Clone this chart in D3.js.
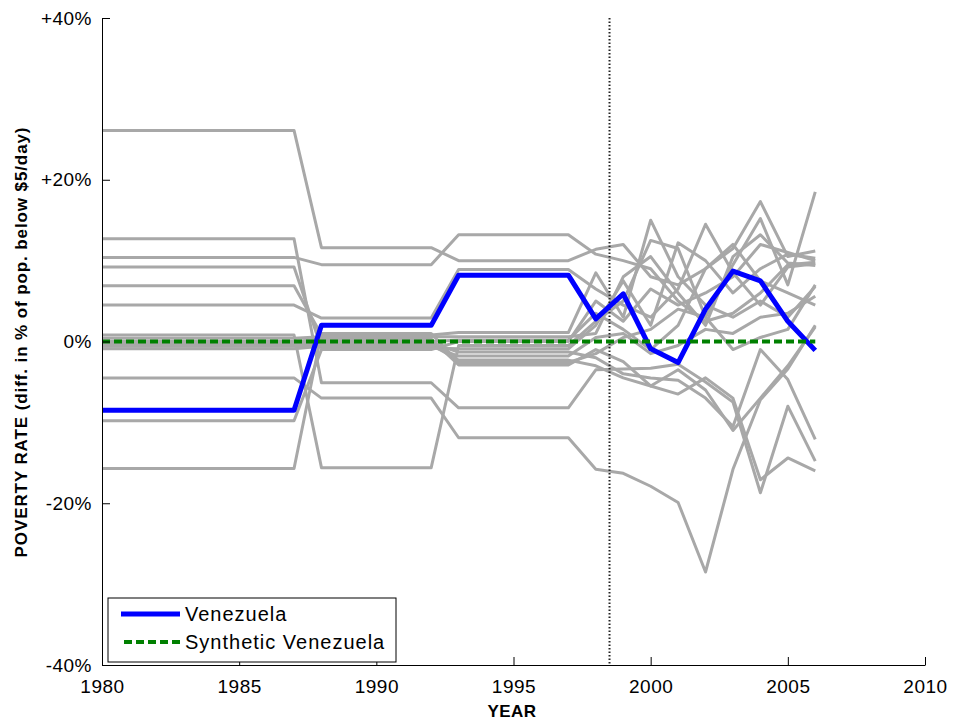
<!DOCTYPE html>
<html>
<head>
<meta charset="utf-8">
<script src="https://cdn.jsdelivr.net/npm/d3@7"></script>
<style>
    body { margin: 0; background: #fff; }
    text { font-family: "Liberation Sans", Arial, sans-serif; fill: #000; }
</style>
</head>
<body>
<svg id="chart" width="955" height="723"></svg>
<script>
// years 1980..2006
const years = [1980,1981,1982,1983,1984,1985,1986,1987,1988,1989,1990,1991,1992,1993,1994,1995,1996,1997,
               1998,1999,2000,2001,2002,2003,2004,2005,2006];

const venezuela = [-8.5,-8.5,-8.5,-8.5,-8.5,-8.5,-8.5,-8.5, 2.0,2.0,2.0,2.0,2.0, 8.2,8.2,8.2,8.2,8.2,
                   2.8,5.9,-0.9,-2.6,4.0,8.7,7.5,2.5,-1.1];

const synthetic = [0,0,0,0,0,0,0,0, 0,0,0,0,0, 0,0,0,0,0, 0,0,0,0,0,0,0,0,0];

// placebo runs (donor pool countries)
const placebo01 = [26.1,26.1,26.1,26.1,26.1,26.1,26.1,26.1, 11.6,11.6,11.6,11.6,11.6, 10.0,10.0,10.0,10.0,10.0, 11.4,12.0,8.0,7.0,9.0,11.5,17.3,10.5,11.2];
const placebo02 = [12.7,12.7,12.7,12.7,12.7,12.7,12.7,12.7, -5.1,-5.1,-5.1,-5.1,-5.1, -8.2,-8.2,-8.2,-8.2,-8.2, -3.5,-3.4,-3.3,-2.8,-5.0,-7.5,-18.7,-8.0,-14.8];
const placebo03 = [10.4,10.4,10.4,10.4,10.4,10.4,10.4,10.4, 9.5,9.5,9.5,9.5,9.5, 13.2,13.2,13.2,13.2,13.2, 10.8,10.0,9.0,5.0,2.5,3.5,6.0,9.5,9.8];
const placebo04 = [9.2,9.2,9.2,9.2,9.2,9.2,9.2,9.2, -0.8,-0.8,-0.8,-0.8,-0.8, -0.9,-0.9,-0.9,-0.9,-0.9, 2.0,7.5,2.0,12.2,10.0,6.0,9.0,10.8,10.3];
const placebo05 = [6.9,6.9,6.9,6.9,6.9,6.9,6.9,6.9, 0.8,0.8,0.8,0.8,0.8, 1.1,1.1,1.1,1.1,1.1, 8.5,3.0,15.0,8.0,4.5,3.0,5.0,3.0,6.8];
const placebo06 = [4.5,4.5,4.5,4.5,4.5,4.5,4.5,4.5, 2.9,2.9,2.9,2.9,2.9, 8.9,8.9,8.9,8.9,8.9, 6.5,4.5,3.0,6.5,14.5,8.5,4.5,9.2,9.6];
const placebo07 = [0.8,0.8,0.8,0.8,0.8,0.8,0.8,0.8, -15.6,-15.6,-15.6,-15.6,-15.6, -0.5,-0.5,-0.5,-0.5,-0.5, 2.5,5.0,12.5,11.5,3.0,9.5,15.2,7.0,18.5];
const placebo08 = [0.4,0.4,0.4,0.4,0.4,0.4,0.4,0.4, 0.6,0.6,0.6,0.6,0.6, 0.6,0.6,0.6,0.6,0.6, 1.0,8.0,10.5,6.0,2.0,10.5,13.2,9.7,9.4];
const placebo09 = [0.0,0.0,0.0,0.0,0.0,0.0,0.0,0.0, 0.3,0.3,0.3,0.3,0.3, -2.9,-2.9,-2.9,-2.9,-2.9, -1.0,-2.5,-5.5,-6.5,-4.5,-7.0,-17.1,-14.4,-16.0];
const placebo10 = [-0.2,-0.2,-0.2,-0.2,-0.2,-0.2,-0.2,-0.2, 0.0,0.0,0.0,0.0,0.0, 0.2,0.2,0.2,0.2,0.2, 3.5,1.5,-1.0,2.0,9.0,12.0,7.5,6.0,4.5];
const placebo11 = [-0.3,-0.3,-0.3,-0.3,-0.3,-0.3,-0.3,-0.3, -0.2,-0.2,-0.2,-0.2,-0.2, -1.3,-1.3,-1.3,-1.3,-1.3, -2.0,-4.0,-4.5,-4.8,-7.0,-10.5,-1.0,-4.7,-12.1];
const placebo12 = [-0.6,-0.6,-0.6,-0.6,-0.6,-0.6,-0.6,-0.6, -0.4,-0.4,-0.4,-0.4,-0.4, -2.3,-2.3,-2.3,-2.3,-2.3, -3.0,-4.5,-5.5,-3.5,-6.0,-11.0,-7.0,-3.0,1.8];
const placebo13 = [-0.9,-0.9,-0.9,-0.9,-0.9,-0.9,-0.9,-0.9, -0.6,-0.6,-0.6,-0.6,-0.6, -1.8,-1.8,-1.8,-1.8,-1.8, 0.5,1.0,-1.5,-0.5,1.5,1.0,3.0,3.5,5.6];
const placebo14 = [-4.5,-4.5,-4.5,-4.5,-4.5,-4.5,-4.5,-4.5, -7.0,-7.0,-7.0,-7.0,-7.0, -11.9,-11.9,-11.9,-11.9,-11.9, -15.8,-16.3,-17.9,-19.9,-28.5,-15.8,-7.2,-3.4,2.0];
const placebo15 = [-9.8,-9.8,-9.8,-9.8,-9.8,-9.8,-9.8,-9.8, -1.0,-1.0,-1.0,-1.0,-1.0, 0.0,0.0,0.0,0.0,0.0, 5.0,2.5,6.5,4.5,6.0,8.0,12.0,11.0,10.0];
const placebo16 = [-15.7,-15.7,-15.7,-15.7,-15.7,-15.7,-15.7,-15.7, 1.0,1.0,1.0,1.0,1.0, -2.6,-2.6,-2.6,-2.6,-2.6, -1.5,0.5,1.5,4.0,3.0,-1.0,0.5,1.5,7.0];

const placebos = [placebo01, placebo02, placebo03, placebo04, placebo05, placebo06, placebo07, placebo08,
                  placebo09, placebo10, placebo11, placebo12, placebo13, placebo14, placebo15, placebo16];

const treatmentYear = 1998.5;
const xTicks = [1980, 1985, 1990, 1995, 2000, 2005, 2010];
const yTicks = [-40, -20, 0, 20, 40];
const legendLabels = ["Venezuela", "Synthetic Venezuela"];

const svg = d3.select("#chart");
svg.append("rect").attr("width", 955).attr("height", 723).attr("fill", "#fff");

const x = d3.scaleLinear().domain([1980, 2010]).range([102, 925]);
const y = d3.scaleLinear().domain([-40, 40]).range([665, 18]);

const line = d3.line()
    .x((d, i) => x(years[i]))
    .y(d => y(d));

// Placebo lines
svg.append("g").selectAll("path")
    .data(placebos)
    .join("path")
    .attr("d", line)
    .attr("fill", "none")
    .attr("stroke", "#a8a8a8")
    .attr("stroke-width", 3)
    .attr("stroke-linejoin", "round");

// Treatment marker
svg.append("line")
    .attr("x1", x(treatmentYear)).attr("x2", x(treatmentYear))
    .attr("y1", y(40)).attr("y2", y(-40))
    .attr("stroke", "#222")
    .attr("stroke-width", 2)
    .attr("stroke-dasharray", "1.5,2");

svg.append("path")
    .datum(venezuela)
    .attr("d", line)
    .attr("fill", "none")
    .attr("stroke", "#0000ff")
    .attr("stroke-width", 5)
    .attr("stroke-linejoin", "round");

svg.append("path")
    .datum(synthetic)
    .attr("d", line)
    .attr("fill", "none")
    .attr("stroke", "#008000")
    .attr("stroke-width", 4)
    .attr("stroke-dasharray", "8,4");

// Axes (ticks point inward, matlab style)
const xAxis = svg.append("g")
    .attr("transform", `translate(0,${y(-40)})`)
    .call(d3.axisBottom(x).tickValues(xTicks).tickFormat(d3.format("d"))
        .tickSizeInner(-8).tickSizeOuter(0).tickPadding(15));

const yAxis = svg.append("g")
    .attr("transform", `translate(${x(1980)},0)`)
    .call(d3.axisLeft(y).tickValues(yTicks)
        .tickFormat(d => (d > 0 ? "+" : "") + d + "%")
        .tickSizeInner(-8).tickSizeOuter(0).tickPadding(10));

[xAxis, yAxis].forEach(a => {
    a.select(".domain").attr("stroke", "#000").attr("stroke-width", 1);
    a.selectAll(".tick line").attr("stroke", "#000");
    a.selectAll(".tick text")
        .attr("fill", "#000")
        .style("font-family", '"Liberation Sans", Arial, sans-serif')
        .style("font-size", "19px")
        .style("letter-spacing", "0.5px");
});

svg.append("text")
    .attr("x", 512).attr("y", 717)
    .attr("text-anchor", "middle")
    .style("font-size", "17px")
    .style("font-weight", "bold")
    .style("letter-spacing", "0.5px")
    .text("YEAR");

svg.append("text")
    .attr("transform", "translate(27,342) rotate(-90)")
    .attr("text-anchor", "middle")
    .style("font-size", "17px")
    .style("font-weight", "bold")
    .style("letter-spacing", "0.9px")
    .text("POVERTY RATE (diff. in % of pop. below $5/day)");

// Legend
const legend = svg.append("g");
legend.append("rect")
    .attr("x", 108).attr("y", 598)
    .attr("width", 288).attr("height", 64)
    .attr("fill", "#fff")
    .attr("stroke", "#000")
    .attr("stroke-width", 1);

legend.append("line")
    .attr("x1", 121).attr("x2", 180).attr("y1", 614).attr("y2", 614)
    .attr("stroke", "#0000ff").attr("stroke-width", 5);
legend.append("line")
    .attr("x1", 124).attr("x2", 180).attr("y1", 642).attr("y2", 642)
    .attr("stroke", "#008000").attr("stroke-width", 4)
    .attr("stroke-dasharray", "8,4");

legend.selectAll("text.label")
    .data(legendLabels)
    .join("text")
    .attr("class", "label")
    .attr("x", 185)
    .attr("y", (d, i) => 621 + i * 28)
    .style("font-size", "20px")
    .style("letter-spacing", "1px")
    .text(d => d);
</script>
</body>
</html>
